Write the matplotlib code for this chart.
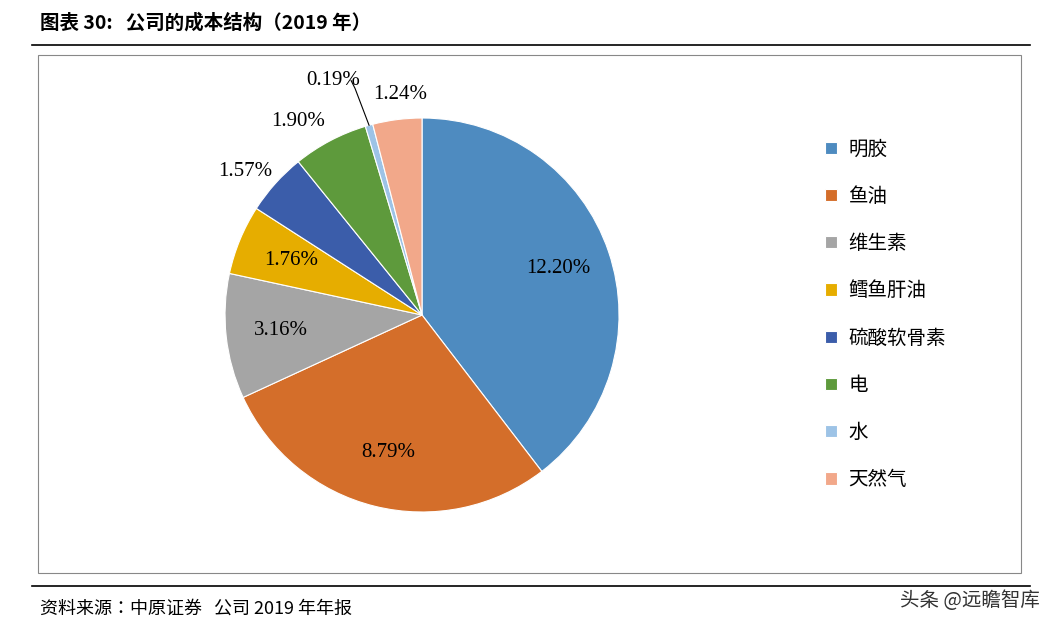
import matplotlib.pyplot as plt
from matplotlib import font_manager as fm
import numpy as np

cats = ['明胶', '鱼油', '维生素', '鳕鱼肝油', '硫酸软骨素', '电', '水', '天然气']
vals = [12.20, 8.79, 3.16, 1.76, 1.57, 1.90, 0.19, 1.24]
colors = ['#4E8BC0', '#D46E2A', '#A5A5A5', '#E6AD00', '#3B5DAA', '#5E9A3C', '#9DC3E6', '#F2A88A']
lab_r = [0.73, 0.72, 0.72, 0.72, 1.2, 1.2, 1.3, 1.13]

# find a CJK font file directly, the family name lookup is not reliable
cjk_file = None
for f in fm.findSystemFonts():
    if 'CJK' in f and ('SC' in f or 'Regular' in f):
        cjk_file = f
        if 'SC' in f and 'Regular' in f:
            break
if cjk_file:
    fm.fontManager.addfont(cjk_file)
    cjk = fm.FontProperties(fname=cjk_file).get_name()
else:
    cjk = 'Noto Sans CJK SC'
num = 'Liberation Serif'

fig = plt.figure(figsize=(10.56, 6.29), dpi=100)
fig.text(0.038, 0.963, '图表 30:   公司的成本结构（2019 年）', fontfamily=cjk,
         fontsize=14, fontweight='bold', va='center')
fig.add_artist(plt.Line2D([0.03, 0.975], [0.929, 0.929], color='black', lw=1.2))
fig.add_artist(plt.Rectangle((0.036, 0.089), 0.931, 0.824, fill=False, ec='#888888', lw=0.8))
fig.add_artist(plt.Line2D([0.03, 0.975], [0.069, 0.069], color='black', lw=1.2))
fig.text(0.038, 0.033, '资料来源：中原证券   公司 2019 年年报', fontfamily=cjk, fontsize=13, va='center')
fig.text(0.985, 0.045, '头条 @远瞻智库', fontfamily=cjk, fontsize=14, color='#333333',
         ha='right', va='center')

ax = fig.add_axes([0.2131, 0.186, 0.3731, 0.6264])
wedges, _ = ax.pie(vals, colors=colors, startangle=90, counterclock=False,
                   wedgeprops=dict(edgecolor='white', linewidth=0.8))
ax.set_xlim(-1, 1)
ax.set_ylim(-1, 1)
ax.set_aspect('equal')

for i, (w, v) in enumerate(zip(wedges, vals)):
    a = np.deg2rad((w.theta1 + w.theta2) / 2)
    x, y = lab_r[i] * np.cos(a), lab_r[i] * np.sin(a)
    ha = 'center'
    if i == 4:
        ha = 'right'
        x, y = -0.76, 0.73
    if i == 5:
        ha = 'right'
        x, y = -0.49, 0.98
    if i == 6:
        x, y = -0.45, 1.19
        ax.plot([np.cos(a) * 1.0, -0.34, -0.36], [np.sin(a) * 1.0, 1.15, 1.19],
                color='black', lw=0.8, clip_on=False)
    if i == 7:
        x, y = -0.11, 1.12
    ax.text(x, y, f'{v:.2f}%', ha=ha, va='center', fontfamily=num, fontsize=15)

fig.legend(wedges, cats, loc='center left', bbox_to_anchor=(0.765, 0.5),
           prop={'family': cjk, 'size': 14}, frameon=False,
           handlelength=0.6, handleheight=0.6, labelspacing=1.35, handletextpad=0.6)

fig.savefig('out.png', dpi=100)
